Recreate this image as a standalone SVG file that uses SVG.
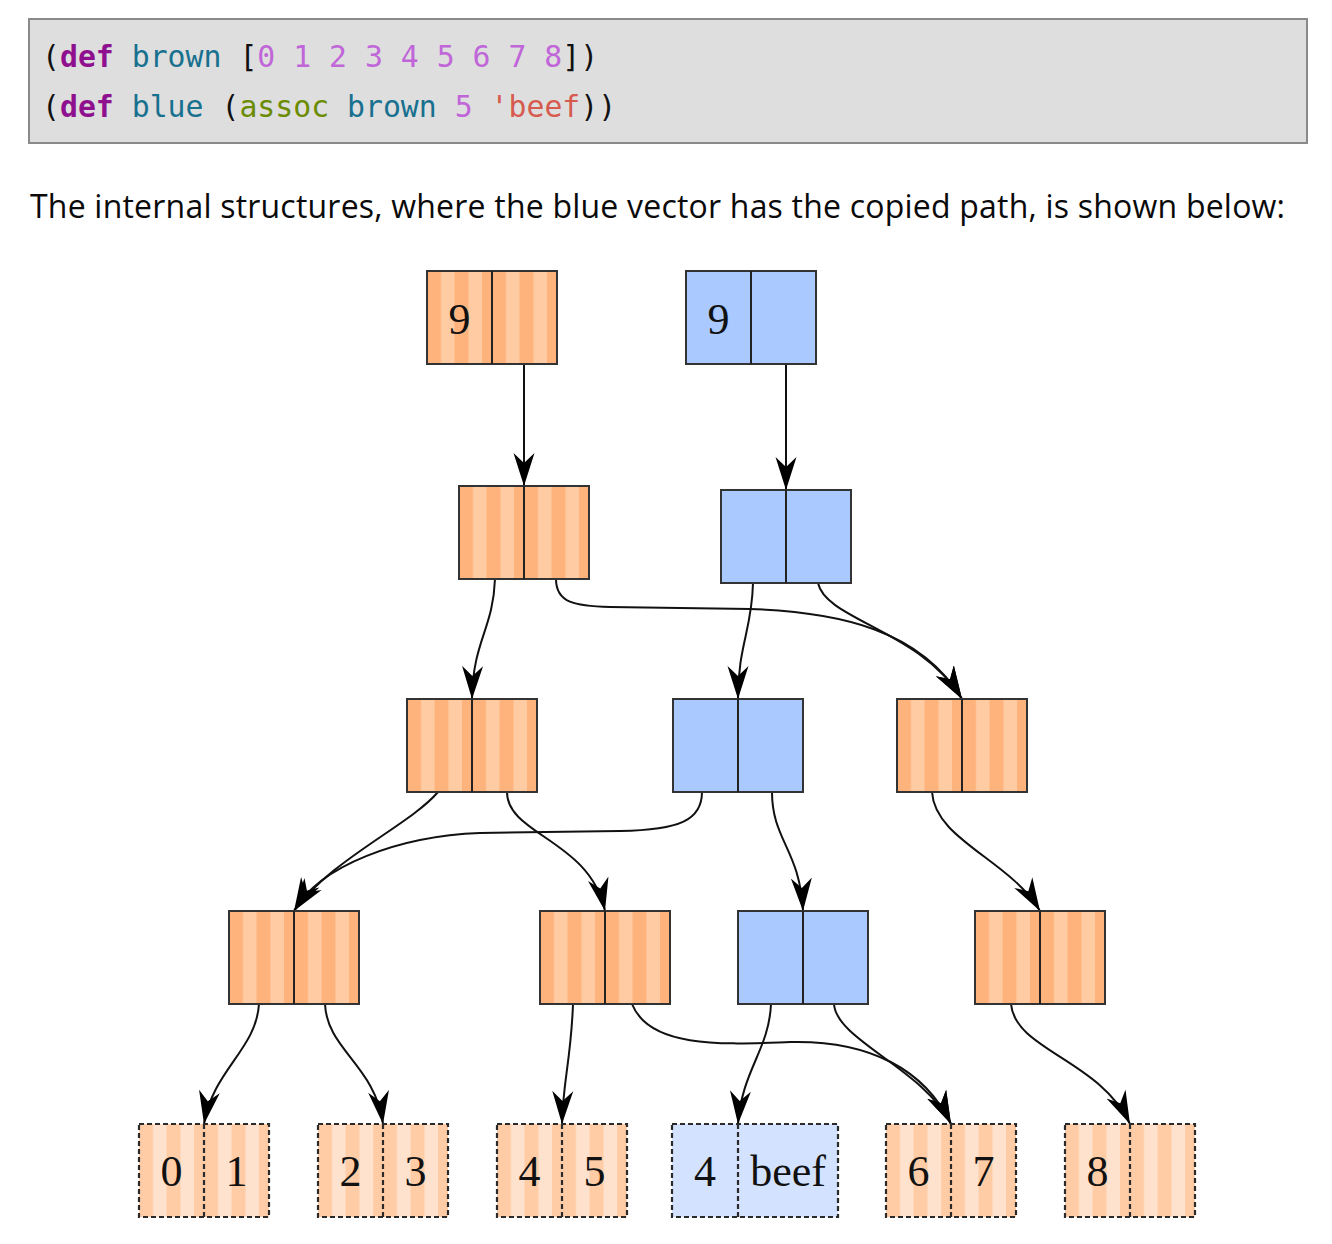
<svg xmlns="http://www.w3.org/2000/svg" width="1332" height="1244" viewBox="0 0 1332 1244">
<style>
.code{font-family:"DejaVu Sans Mono","Liberation Mono",monospace;font-size:29.8px;fill:#111}
.kw{fill:#8E108E;font-weight:bold}
.sym{fill:#18708F}
.num{fill:#C066D8}
.fn{fill:#6B8C00}
.str{fill:#D65A4E}
.para{font-family:"Open Sans","Liberation Sans",sans-serif;font-size:32px;fill:#0a0a0a}
.lbl{font-family:"Liberation Serif","DejaVu Serif",serif;font-size:44px;fill:#111;text-anchor:middle}
.box{fill:none;stroke:#333;stroke-width:2}
.leafbox{fill:none;stroke:#2a2a2a;stroke-width:2.2;stroke-dasharray:5 3}
.div{stroke:#222;stroke-width:2}
.blue{fill:#A9C9FF}
.lblue{fill:#D3E3FF}
.edge{fill:none;stroke:#111;stroke-width:2;marker-end:url(#arr)}
</style>
<defs>
<pattern id="brA" patternUnits="userSpaceOnUse" x="0" y="0" width="27.5" height="10"><rect width="27.5" height="10" fill="#FFCBA2"/><rect width="14" height="10" fill="#FFB37C"/></pattern>
<pattern id="brB" patternUnits="userSpaceOnUse" x="65" y="0" width="27.5" height="10"><rect width="27.5" height="10" fill="#FFCBA2"/><rect width="14" height="10" fill="#FFB37C"/></pattern>
<pattern id="lfA" patternUnits="userSpaceOnUse" x="0" y="0" width="27.5" height="10"><rect width="27.5" height="10" fill="#FFE2CD"/><rect width="14" height="10" fill="#FFCCA6"/></pattern>
<pattern id="lfB" patternUnits="userSpaceOnUse" x="65" y="0" width="27.5" height="10"><rect width="27.5" height="10" fill="#FFE2CD"/><rect width="14" height="10" fill="#FFCCA6"/></pattern>
<marker id="arr" markerUnits="userSpaceOnUse" markerWidth="34" markerHeight="22" viewBox="0 0 34 22" refX="33" refY="11" orient="auto"><path d="M33,11 L0,0.5 L10,11 L0,21.5 Z" fill="#000"/></marker>
</defs>

<rect x="29" y="19" width="1278" height="124" fill="#DEDEDE" stroke="#8A8A8A" stroke-width="2"/>
<text class="code" x="42" y="67">(<tspan class="kw">def</tspan> <tspan class="sym">brown</tspan> [<tspan class="num">0 1 2 3 4 5 6 7 8</tspan>])</text>
<text class="code" x="42" y="117">(<tspan class="kw">def</tspan> <tspan class="sym">blue</tspan> (<tspan class="fn">assoc</tspan> <tspan class="sym">brown</tspan> <tspan class="num">5</tspan> <tspan class="str">'beef</tspan>))</text>

<text class="para" x="30" y="218" textLength="1255">The internal structures, where the blue vector has the copied path, is shown below:</text>

<g id="connectors">
<path class="edge" d="M524,364 L524,486"/>
<path class="edge" d="M786,364 L786,490"/>
<path class="edge" d="M495,579 C493,630 473,640 472,699"/>
<path class="edge" d="M556,579 C556,603 575,606 610,607 L750,609 C840,612 920,630 962,699"/>
<path class="edge" d="M818,583 C826,620 920,630 962,699"/>
<path class="edge" d="M753,583 C752,630 738,645 738,699"/>
<path class="edge" d="M438,792 C410,825 330,860 294,911"/>
<path class="edge" d="M507,792 C507,835 590,840 605,911"/>
<path class="edge" d="M702,792 C702,820 680,830 620,831 L480,833 C400,836 320,865 294,911"/>
<path class="edge" d="M772,792 C772,840 800,850 803,911"/>
<path class="edge" d="M932,792 C935,840 1010,860 1040,911"/>
<path class="edge" d="M259,1004 C256,1050 213,1070 204,1124"/>
<path class="edge" d="M325,1004 C327,1050 375,1065 383,1124"/>
<path class="edge" d="M573,1004 C571,1060 563,1080 562,1124"/>
<path class="edge" d="M632,1004 C650,1050 730,1044 790,1042 C870,1040 925,1070 951,1124"/>
<path class="edge" d="M771,1004 C769,1050 742,1070 738,1124"/>
<path class="edge" d="M834,1004 C836,1040 925,1070 951,1124"/>
<path class="edge" d="M1011,1004 C1015,1050 1100,1060 1130,1124"/>
</g>

<g id="brown-root" transform="translate(427,271)">
<rect width="65" height="93" fill="url(#brA)"/><rect x="65" width="65" height="93" fill="url(#brB)"/>
<rect class="box" width="130" height="93"/><line class="div" x1="65" y1="0" x2="65" y2="93"/>
<text class="lbl" x="32.5" y="63">9</text>
</g>
<g id="blue-root" transform="translate(686,271)">
<rect class="blue" width="130" height="93"/>
<rect class="box" width="130" height="93"/><line class="div" x1="65" y1="0" x2="65" y2="93"/>
<text class="lbl" x="32.5" y="63">9</text>
</g>

<g id="brown-l2" transform="translate(459,486)">
<rect width="65" height="93" fill="url(#brA)"/><rect x="65" width="65" height="93" fill="url(#brB)"/>
<rect class="box" width="130" height="93"/><line class="div" x1="65" y1="0" x2="65" y2="93"/>
</g>
<g id="blue-l2" transform="translate(721,490)">
<rect class="blue" width="130" height="93"/>
<rect class="box" width="130" height="93"/><line class="div" x1="65" y1="0" x2="65" y2="93"/>
</g>

<g id="brown-l3a" transform="translate(407,699)">
<rect width="65" height="93" fill="url(#brA)"/><rect x="65" width="65" height="93" fill="url(#brB)"/>
<rect class="box" width="130" height="93"/><line class="div" x1="65" y1="0" x2="65" y2="93"/>
</g>
<g id="blue-l3" transform="translate(673,699)">
<rect class="blue" width="130" height="93"/>
<rect class="box" width="130" height="93"/><line class="div" x1="65" y1="0" x2="65" y2="93"/>
</g>
<g id="brown-l3b" transform="translate(897,699)">
<rect width="65" height="93" fill="url(#brA)"/><rect x="65" width="65" height="93" fill="url(#brB)"/>
<rect class="box" width="130" height="93"/><line class="div" x1="65" y1="0" x2="65" y2="93"/>
</g>

<g id="brown-l4a" transform="translate(229,911)">
<rect width="65" height="93" fill="url(#brA)"/><rect x="65" width="65" height="93" fill="url(#brB)"/>
<rect class="box" width="130" height="93"/><line class="div" x1="65" y1="0" x2="65" y2="93"/>
</g>
<g id="brown-l4b" transform="translate(540,911)">
<rect width="65" height="93" fill="url(#brA)"/><rect x="65" width="65" height="93" fill="url(#brB)"/>
<rect class="box" width="130" height="93"/><line class="div" x1="65" y1="0" x2="65" y2="93"/>
</g>
<g id="blue-l4" transform="translate(738,911)">
<rect class="blue" width="130" height="93"/>
<rect class="box" width="130" height="93"/><line class="div" x1="65" y1="0" x2="65" y2="93"/>
</g>
<g id="brown-l4c" transform="translate(975,911)">
<rect width="65" height="93" fill="url(#brA)"/><rect x="65" width="65" height="93" fill="url(#brB)"/>
<rect class="box" width="130" height="93"/><line class="div" x1="65" y1="0" x2="65" y2="93"/>
</g>

<g id="leaf-01" transform="translate(139,1124)">
<rect width="65" height="93" fill="url(#lfA)"/><rect x="65" width="65" height="93" fill="url(#lfB)"/>
<rect class="leafbox" width="130" height="93"/><line class="leafbox" x1="65" y1="0" x2="65" y2="93"/>
<text class="lbl" x="32.5" y="62">0</text><text class="lbl" x="97.5" y="62">1</text>
</g>
<g id="leaf-23" transform="translate(318,1124)">
<rect width="65" height="93" fill="url(#lfA)"/><rect x="65" width="65" height="93" fill="url(#lfB)"/>
<rect class="leafbox" width="130" height="93"/><line class="leafbox" x1="65" y1="0" x2="65" y2="93"/>
<text class="lbl" x="32.5" y="62">2</text><text class="lbl" x="97.5" y="62">3</text>
</g>
<g id="leaf-45" transform="translate(497,1124)">
<rect width="65" height="93" fill="url(#lfA)"/><rect x="65" width="65" height="93" fill="url(#lfB)"/>
<rect class="leafbox" width="130" height="93"/><line class="leafbox" x1="65" y1="0" x2="65" y2="93"/>
<text class="lbl" x="32.5" y="62">4</text><text class="lbl" x="97.5" y="62">5</text>
</g>
<g id="leaf-4beef" transform="translate(672,1124)">
<rect class="lblue" width="166" height="93"/>
<rect class="leafbox" width="166" height="93"/><line class="leafbox" x1="66" y1="0" x2="66" y2="93"/>
<text class="lbl" x="33" y="62">4</text><text class="lbl" x="116" y="62">beef</text>
</g>
<g id="leaf-67" transform="translate(886,1124)">
<rect width="65" height="93" fill="url(#lfA)"/><rect x="65" width="65" height="93" fill="url(#lfB)"/>
<rect class="leafbox" width="130" height="93"/><line class="leafbox" x1="65" y1="0" x2="65" y2="93"/>
<text class="lbl" x="32.5" y="62">6</text><text class="lbl" x="97.5" y="62">7</text>
</g>
<g id="leaf-8" transform="translate(1065,1124)">
<rect width="65" height="93" fill="url(#lfA)"/><rect x="65" width="65" height="93" fill="url(#lfB)"/>
<rect class="leafbox" width="130" height="93"/><line class="leafbox" x1="65" y1="0" x2="65" y2="93"/>
<text class="lbl" x="32.5" y="62">8</text>
</g>
</svg>
